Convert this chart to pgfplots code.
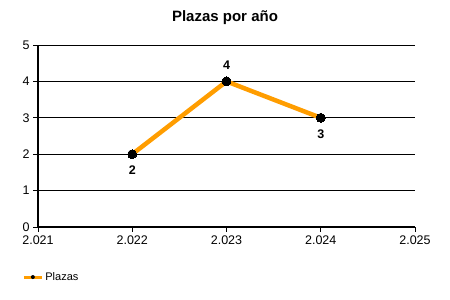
\documentclass[border=0pt]{standalone}
\usepackage{pgfplots}
\pgfplotsset{compat=1.18}
\usepackage{fontspec}
\setmainfont{Liberation Sans}
\definecolor{lineor}{RGB}{255,157,0}
\begin{document}
\begin{tikzpicture}[x=1pt,y=1pt]
\path (0,0) rectangle (450,300);
\node[font=\fontsize{15}{18}\selectfont\bfseries] at (225,282) {Plazas por año};
\begin{axis}[
  at={(38pt,73pt)}, anchor=south west,
  scale only axis, width=377pt, height=182pt,
  xmin=2021, xmax=2025, ymin=0, ymax=5,
  xtick={2021,2022,2023,2024,2025},
  xticklabels={2.021,2.022,2.023,2.024,2.025},
  ytick={0,1,2,3,4,5},
  axis x line*=bottom, axis y line*=left,
  axis line style={black, line width=1.2pt, -},
  ymajorgrids, grid style={black, line width=0.9pt},
  tick align=outside, major tick length=5pt,
  tick style={black, line width=0.9pt},
  ticklabel style={font=\fontsize{12.5}{14}\selectfont},
  /pgf/number format/assume math mode=true,
  xticklabel style={yshift=-0.5pt},
  yticklabel style={xshift=0pt},
  clip=false,
  legend style={at={(rel axis cs:-0.042,-0.275)}, anchor=west, draw=none, fill=none,
    font=\fontsize{11}{13}\selectfont, inner sep=0pt, legend cell align=left},
  legend image code/.code={\draw[lineor,line width=3pt] (0pt,0pt)--(18pt,0pt); \path[fill=black, draw=none] (9pt,0pt) circle (2pt);},
]
\addplot[lineor, line width=4.5pt, mark=*, mark size=4.5pt,
  mark options={fill=black, draw=black, line width=0pt},
  point meta=explicit,
  visualization depends on={value \thisrow{off}\as\myoff},
  nodes near coords={\pgfmathprintnumber{\pgfplotspointmeta}},
  every node near coord/.append style={anchor=center, black, font=\fontsize{12.5}{14}\selectfont\bfseries, inner sep=0pt, yshift=\myoff pt},
] table[x=x,y=y,meta=y] {
x y off
2022 2 -16
2023 4 16
2024 3 -16
};
\addlegendentry{Plazas}
\end{axis}
\end{tikzpicture}
\end{document}
